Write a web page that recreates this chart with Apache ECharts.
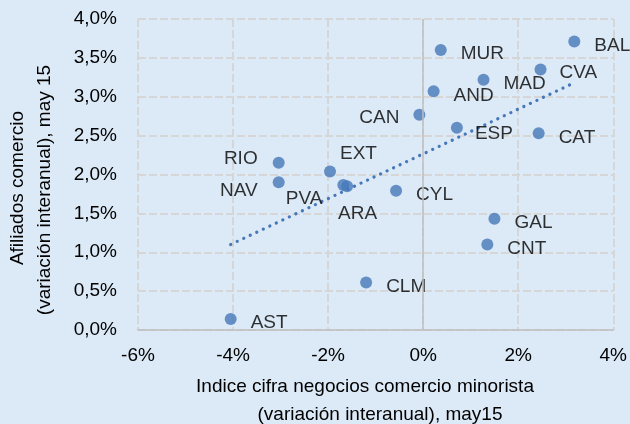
<!DOCTYPE html>
<html>
<head>
<meta charset="utf-8">
<script src="https://cdn.jsdelivr.net/npm/echarts@6/dist/echarts.min.js"></script>
<style>
html,body{margin:0;padding:0;background:#dce9f6;}
#c{width:630px;height:424px;}
</style>
</head>
<body>
<div id="c"></div>
<script>
// Data (percent values)
var regions = ['BAL','MUR','CVA','MAD','AND','CAN','ESP','CAT','EXT','PVA','ARA','CYL','RIO','NAV','AST','GAL','CNT','CLM'];
var ventas  = [3.18, 0.37, 2.47, 1.27, 0.22, -0.08, 0.71, 2.43, -1.96, -1.68, -1.60, -0.57, -3.04, -3.04, -4.05, 1.50, 1.35, -1.20];
var afiliados = [3.71, 3.60, 3.35, 3.22, 3.07, 2.77, 2.60, 2.53, 2.04, 1.865, 1.85, 1.79, 2.15, 1.90, 0.14, 1.43, 1.10, 0.61];
var trendX = [-4.05, 3.18];
var trendY = [1.10, 3.18];
var xTicks = [-6, -4, -2, 0, 2, 4];
var yTicks = [0, 0.5, 1, 1.5, 2, 2.5, 3, 3.5, 4];

// label placement (style only)
var labelStyle = {
  CAN: {position:'left', distance:14, offset:[0,3]},
  RIO: {position:'left', distance:15, offset:[0,-4]},
  NAV: {position:'left', distance:15, offset:[0,8]},
  PVA: {position:'left', distance:15, offset:[0,14]},
  ARA: {position:'right', distance:14, offset:[-29,28]},
  EXT: {position:'right', distance:14, offset:[-10,-18]},
  ESP: {position:'right', distance:14, offset:[-2,6]},
  CVA: {position:'right', distance:14, offset:[-1,3]}
};

var pts = regions.map(function(r,i){
  var item = {name:r, value:[ventas[i], afiliados[i]]};
  if (labelStyle[r]) item.label = labelStyle[r];
  return item;
});

var FONT = 'Liberation Sans';
var FS = 19;
var TXT = '#000';
var BLUE = '#4678b9';
var chart = echarts.init(document.getElementById('c'), null, {renderer:'canvas'});
chart.setOption({
  backgroundColor:'#dce9f6',
  animation:false,
  textStyle:{fontFamily:FONT},
  grid:{left:138, right:15, top:19, bottom:94},
  xAxis:{
    type:'value', min:xTicks[0], max:xTicks[xTicks.length-1], interval:2,
    axisLine:{show:true, onZero:false, lineStyle:{color:'#bfbfbf', width:1.5}},
    axisTick:{show:false},
    axisLabel:{fontSize:FS, color:TXT, margin:16, fontFamily:FONT,
      formatter:function(v){return v+'%';}},
    splitLine:{show:true, lineStyle:{color:'#d6d6d6', width:2, type:[8,3]}}
  },
  yAxis:{
    type:'value', min:yTicks[0], max:yTicks[yTicks.length-1], interval:0.5,
    axisLine:{show:false},
    axisTick:{show:false},
    axisLabel:{fontSize:FS, color:TXT, margin:21, fontFamily:FONT,
      formatter:function(v){return v.toFixed(1).replace('.',',')+'%';}},
    splitLine:{show:true, lineStyle:{color:'#d6d6d6', width:2, type:[8,3]}}
  },
  graphic:[
    {type:'text', style:{text:'Indice cifra negocios comercio minorista', x:365, y:387, align:'center', verticalAlign:'middle', font:FS+'px "Liberation Sans"', fill:TXT}},
    {type:'text', style:{text:'(variación interanual), may15', x:380, y:415, align:'center', verticalAlign:'middle', font:FS+'px "Liberation Sans"', fill:TXT}},
    {type:'text', x:18, y:188, rotation:Math.PI/2, style:{text:'Afiliados comercio', x:0, y:0, align:'center', verticalAlign:'middle', font:FS+'px "Liberation Sans"', fill:TXT}},
    {type:'text', x:45, y:190, rotation:Math.PI/2, style:{text:'(variación interanual), may 15', x:0, y:0, align:'center', verticalAlign:'middle', font:FS+'px "Liberation Sans"', fill:TXT}}
  ],
  series:[
    {
      type:'line',
      data:trendX.map(function(x,i){return [x,trendY[i]];}),
      showSymbol:false, symbol:'none', silent:true,
      lineStyle:{color:BLUE, width:3.2, type:[0.1,7.1], cap:'round'},
      markLine:{
        silent:true, symbol:'none', label:{show:false},
        lineStyle:{color:'#bfbfbf', width:1.5, type:'solid'},
        data:[{xAxis:0}]
      },
      z:2
    },
    {
      type:'scatter',
      data:pts,
      symbolSize:12,
      itemStyle:{color:BLUE},
      label:{show:true, position:'right', distance:14, offset:[0,4],
        formatter:'{b}', fontSize:FS, color:TXT, fontFamily:FONT},
      z:3
    }
  ]
});
</script>
</body>
</html>
